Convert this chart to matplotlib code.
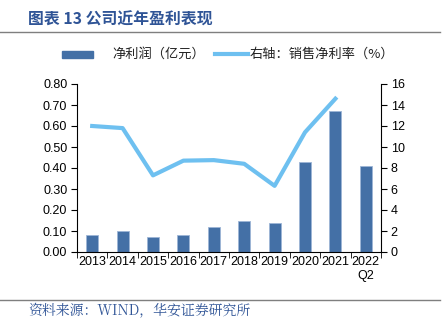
import matplotlib
matplotlib.use("Agg")
import matplotlib.pyplot as plt
from matplotlib.patches import Rectangle
import numpy as np

plt.rcParams['font.family'] = ['Liberation Sans', 'Noto Sans CJK SC', 'DejaVu Sans']

years = ["2013", "2014", "2015", "2016", "2017", "2018", "2019", "2020", "2021", "2022\nQ2"]
net_profit = [0.08, 0.10, 0.07, 0.08, 0.12, 0.15, 0.14, 0.43, 0.67, 0.41]
net_margin = [12.0, 11.8, 7.3, 8.7, 8.75, 8.4, 6.3, 11.4, 14.6]
label_profit = "净利润（亿元）"
label_margin = "右轴：销售净利率（%）"

bar_color = "#4470A6"
line_color = "#6EC0F0"
W, H = 448, 322

fig = plt.figure(figsize=(4.48, 3.22), dpi=100)
ax = fig.add_axes([77/W, 1-252/H, (381-77)/W, (252-84)/H])
x = np.arange(len(years))
ax.bar(x, net_profit, width=0.4, color=bar_color, edgecolor="#9DB5D6", linewidth=0.6, zorder=2)
ax.set_xlim(-0.5, len(years)-0.5)
ax.set_ylim(0, 0.8)
ax.set_yticks(np.arange(0, 0.81, 0.1))
ax.set_yticklabels([f"{v:.2f}" for v in np.arange(0, 0.81, 0.1)], fontsize=9)
ax.set_xticks(x)
ax.set_xticklabels(years, fontsize=9)
ax.tick_params(axis='x', length=0, pad=3)
ax.set_xticks(np.arange(-0.5, len(years), 1), minor=True)
ax.tick_params(axis='x', which='minor', length=4, direction='out')
ax.tick_params(axis='y', length=4, direction='out', pad=3)
for s in ['top', 'right']:
    ax.spines[s].set_visible(False)

ax2 = ax.twinx()
ax2.plot(x[:len(net_margin)], net_margin, color=line_color, linewidth=3, zorder=3)
ax2.set_ylim(0, 16)
ax2.set_yticks(np.arange(0, 17, 2))
ax2.set_yticklabels([str(v) for v in range(0, 17, 2)], fontsize=9)
ax2.tick_params(axis='y', length=4, direction='out', pad=3)
for s in ['top', 'left', 'bottom']:
    ax2.spines[s].set_visible(False)

# legend drawn manually
ly = 1 - 54/H
cjk = ['Noto Sans CJK SC', 'DejaVu Sans']
fig.add_artist(Rectangle((62/W, ly - 3.5/H), 31/W, 7/H, color=bar_color, transform=fig.transFigure))
fig.text(112/W, ly, label_profit, fontsize=9.5, va='center', ha='left', family=cjk, color="#222222")
fig.add_artist(plt.Line2D([215/W, 248/W], [ly, ly], color=line_color, linewidth=3))
fig.text(250/W, ly, label_margin, fontsize=9.5, va='center', ha='left', family=cjk, color="#222222")

fig.text(28/W, 1-20/H, "图表 13 公司近年盈利表现", fontsize=11.4, fontweight='bold',
         color="#2F5496", va='center', ha='left', family=cjk)
fig.add_artist(plt.Line2D([0, 440/W], [1-32/H, 1-32/H], color="#7F7F7F", linewidth=1))
fig.add_artist(plt.Line2D([0, 440/W], [1-300/H, 1-300/H], color="#7F7F7F", linewidth=1))
fig.text(28/W, 1-311/H, "资料来源：WIND，华安证券研究所", fontsize=10,
         color="#2F5496", va='center', ha='left', family=['Noto Serif CJK SC', 'Liberation Serif', 'Noto Sans CJK SC'])

fig.savefig("out.png", dpi=100)
